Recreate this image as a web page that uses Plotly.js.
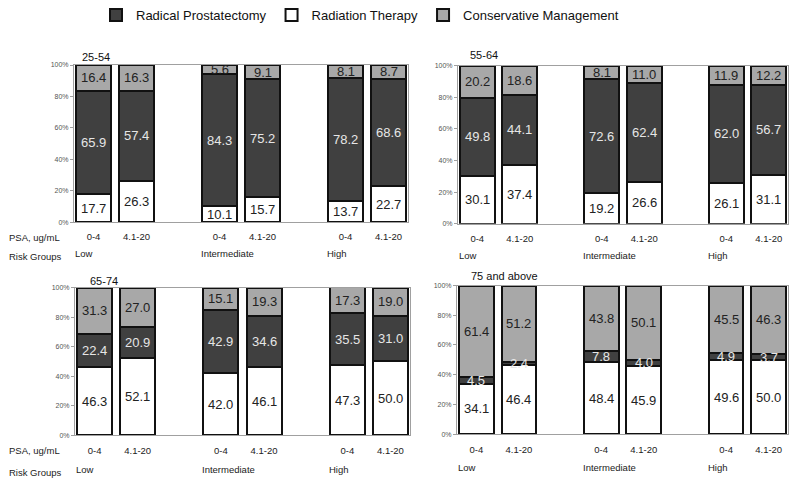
<!DOCTYPE html>
<html><head><meta charset="utf-8">
<script src="https://cdn.plot.ly/plotly-3.0.1.min.js"></script>
<style>html,body{margin:0;padding:0;background:#fff}#chart{width:800px;height:485px}</style>
</head><body><div id="chart"></div>
<script>
// ---- data ----
const ageGroups = ['25-54', '55-64', '65-74', '75 and above'];
const riskGroups = ['Low', 'Intermediate', 'High'];
const psaLevels = ['0-4', '4.1-20'];
const seriesNames = ['Radical Prostatectomy', 'Radiation Therapy', 'Conservative Management'];
const yTickValues = [0, 20, 40, 60, 80, 100];
const yTickLabels = ['0%', '20%', '40%', '60%', '80%', '100%'];

// order within each array: Low 0-4, Low 4.1-20, Intermediate 0-4, Intermediate 4.1-20, High 0-4, High 4.1-20
const radiation_25_54 = [17.7, 26.3, 10.1, 15.7, 13.7, 22.7];
const prostatectomy_25_54 = [65.9, 57.4, 84.3, 75.2, 78.2, 68.6];
const conservative_25_54 = [16.4, 16.3, 5.6, 9.1, 8.1, 8.7];

const radiation_55_64 = [30.1, 37.4, 19.2, 26.6, 26.1, 31.1];
const prostatectomy_55_64 = [49.8, 44.1, 72.6, 62.4, 62.0, 56.7];
const conservative_55_64 = [20.2, 18.6, 8.1, 11.0, 11.9, 12.2];

const radiation_65_74 = [46.3, 52.1, 42.0, 46.1, 47.3, 50.0];
const prostatectomy_65_74 = [22.4, 20.9, 42.9, 34.6, 35.5, 31.0];
const conservative_65_74 = [31.3, 27.0, 15.1, 19.3, 17.3, 19.0];

const radiation_75_up = [34.1, 46.4, 48.4, 45.9, 49.6, 50.0];
const prostatectomy_75_up = [4.5, 2.4, 7.8, 4.0, 4.9, 3.7];
const conservative_75_up = [61.4, 51.2, 43.8, 50.1, 45.5, 46.3];

const radiationByAge = [radiation_25_54, radiation_55_64, radiation_65_74, radiation_75_up];
const prostatectomyByAge = [prostatectomy_25_54, prostatectomy_55_64, prostatectomy_65_74, prostatectomy_75_up];
const conservativeByAge = [conservative_25_54, conservative_55_64, conservative_65_74, conservative_75_up];

// ---- layout / style ----
const W = 800, H = 485;
const FONT = 'Liberation Sans, Arial, sans-serif';
const BAR_W = 35, PAIR_STEP = 43, GROUP_STEP = 126;
const X_RANGE = [-2, 332];
const COL_RP = '#404040', COL_RT = '#ffffff', COL_CM = '#a8a8a8';

// panel boxes in pixels: [left, right, top, bottom]
const panelBoxes = [
  [74, 408, 63.3, 221],
  [458, 788, 64, 222.7],
  [75, 410, 286.7, 435],
  [457, 788, 284.7, 434]
];
const titlePos = [[80, 55], [468, 53], [88, 280], [469, 275]];
const riskLabelY = [253, 255, 469, 467];

const px = x => x / W;
const py = y => 1 - y / H;

const xPositions = [];
const xLabels = [];
riskGroups.forEach((g, gi) => psaLevels.forEach((p, pi) => {
  xPositions.push(BAR_W / 2 + gi * GROUP_STEP + pi * PAIR_STEP);
  xLabels.push(p);
}));

const traces = [];
const layout = {
  width: W, height: H,
  margin: {l: 0, r: 0, t: 0, b: 0},
  paper_bgcolor: '#fff', plot_bgcolor: '#fff',
  font: {family: FONT, color: '#222'},
  barmode: 'stack',
  bargap: 0,
  showlegend: true,
  legend: {
    orientation: 'h', x: px(96), xanchor: 'left', y: py(13), yanchor: 'middle',
    font: {size: 13, family: FONT, color: '#111'},
    itemwidth: 30, traceorder: 'normal'
  },
  annotations: [],
  hovermode: false
};

const fmt = v => v.toFixed(1);
const valueFont = c => ({size: 13, color: c, family: FONT});

ageGroups.forEach((age, i) => {
  const suf = i === 0 ? '' : String(i + 1);
  const xa = 'x' + suf, ya = 'y' + suf;
  const box = panelBoxes[i];
  const rt = radiationByAge[i], rp = prostatectomyByAge[i], cm = conservativeByAge[i];
  const common = {type: 'bar', x: xPositions, width: BAR_W, xaxis: xa, yaxis: ya};
  traces.push(Object.assign({}, common, {
    name: seriesNames[1], y: rt,
    marker: {color: COL_RT, line: {color: '#111', width: 2}},
    legendrank: 2, showlegend: i === 0, legendgroup: 'rt'
  }));
  traces.push(Object.assign({}, common, {
    name: seriesNames[0], y: rp,
    marker: {color: COL_RP, line: {color: '#111', width: 2}},
    legendrank: 1, showlegend: i === 0, legendgroup: 'rp'
  }));
  traces.push(Object.assign({}, common, {
    name: seriesNames[2], y: cm,
    marker: {color: COL_CM, line: {color: '#111', width: 2}},
    legendrank: 3, showlegend: i === 0, legendgroup: 'cm'
  }));

  // value labels at the middle of each stacked segment
  xPositions.forEach((x, j) => {
    const segs = [[rt[j], 0, '#222'], [rp[j], rt[j], '#e6e6e6'], [cm[j], rt[j] + rp[j], '#222']];
    segs.forEach(([v, base, col]) => {
      layout.annotations.push({
        text: fmt(v), xref: xa, yref: ya, x: x, y: base + v / 2,
        xanchor: 'center', yanchor: 'middle', showarrow: false,
        font: valueFont(col)
      });
    });
  });

  layout['xaxis' + suf] = {
    domain: [px(box[0]), px(box[1])], anchor: ya, range: X_RANGE,
    showgrid: false, zeroline: false, showline: true, mirror: true,
    linecolor: '#a0a0a0', linewidth: 1,
    tickmode: 'array', tickvals: xPositions, ticktext: xLabels,
    ticks: '', ticklabelstandoff: 6,
    tickfont: {size: 9.5, color: '#222', family: FONT}
  };
  layout['yaxis' + suf] = {
    domain: [py(box[3]), py(box[2])], anchor: xa, range: [0, 100],
    showgrid: false, zeroline: false, showline: true, mirror: true,
    linecolor: '#a0a0a0', linewidth: 1,
    tickmode: 'array', tickvals: yTickValues, ticktext: yTickLabels,
    ticks: 'outside', ticklen: 3, tickcolor: '#a0a0a0',
    tickfont: {size: 7, color: '#555', family: FONT}
  };

  layout.annotations.push({
    text: age, xref: 'paper', yref: 'paper', x: px(titlePos[i][0]), y: py(titlePos[i][1]),
    xanchor: 'left', yanchor: 'middle', showarrow: false,
    font: {size: 11, color: '#111', family: FONT}
  });
  riskGroups.forEach((g, gi) => {
    layout.annotations.push({
      text: g, xref: xa, yref: 'paper', x: gi * GROUP_STEP, y: py(riskLabelY[i]),
      xanchor: 'left', yanchor: 'middle', xshift: -3, showarrow: false,
      font: {size: 9.5, color: '#222', family: FONT}
    });
  });
});

// row captions on the left panels
[[236, 256], [450, 472]].forEach(([psaY, riskY]) => {
  layout.annotations.push({
    text: 'PSA, ug/mL', xref: 'paper', yref: 'paper', x: px(7), y: py(psaY),
    xanchor: 'left', yanchor: 'middle', showarrow: false,
    font: {size: 9.5, color: '#222', family: FONT}
  });
  layout.annotations.push({
    text: 'Risk Groups', xref: 'paper', yref: 'paper', x: px(7), y: py(riskY),
    xanchor: 'left', yanchor: 'middle', showarrow: false,
    font: {size: 9.5, color: '#222', family: FONT}
  });
});

Plotly.newPlot('chart', traces, layout, {staticPlot: true, displayModeBar: false});
</script>
</body></html>
